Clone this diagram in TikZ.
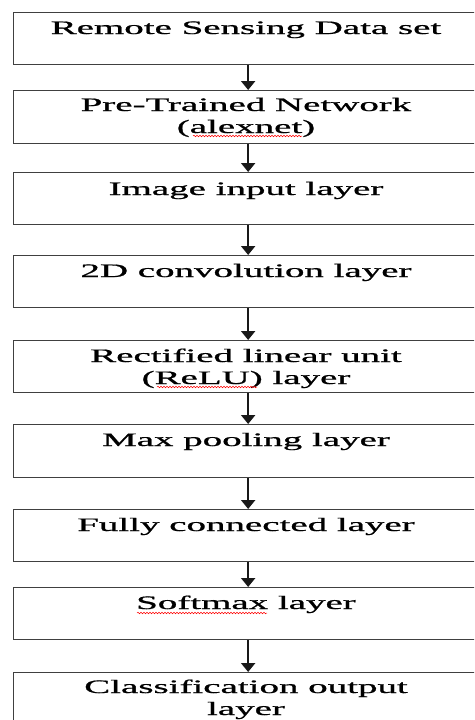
\documentclass[tikz,border=0pt]{standalone}
\usepackage{fontspec}
\setmainfont{Liberation Serif}
\newfontfamily\heavyserif{Liberation Serif}[FakeBold=0.7]
\usetikzlibrary{arrows.meta,decorations.pathmorphing}
\newcommand\widetext[1]{\scalebox{2.05}[1]{#1}}
\begin{document}
\begin{tikzpicture}[x=1pt,y=-1pt,
  box/.style={draw=black!75, line width=1.3pt, minimum width=469pt, anchor=north west, inner sep=0pt},
  txt/.style={anchor=base, inner sep=0pt, font=\heavyserif\fontsize{19}{22}\selectfont},
  flow/.style={-{Triangle[width=14pt,length=9pt]}, line width=2.2pt, black!90},
  squig/.style={red, line width=0.5pt, decorate, decoration={snake, amplitude=0.8pt, segment length=3pt}}]
\useasboundingbox (0,0) rectangle (474,720);
\clip (0,0) rectangle (474,720);
% boxes
\node[box, minimum height=52pt] (b1) at (13,12) {};
\node[box, minimum height=53pt] (b2) at (13,90) {};
\node[box, minimum height=52pt] (b3) at (13,172) {};
\node[box, minimum height=52pt] (b4) at (13,255) {};
\node[box, minimum height=52pt] (b5) at (13,340) {};
\node[box, minimum height=53pt] (b6) at (13,424) {};
\node[box, minimum height=52pt] (b7) at (13,509) {};
\node[box, minimum height=52pt] (b8) at (13,587) {};
\node[box, minimum height=60pt] (b9) at (13,672) {};
% texts
\node[txt] (t1) at (246,34) {\widetext{Remote Sensing Data set}};
\node[txt] (t2) at (246,111) {\widetext{Pre-Trained Network}};
\node[txt] (t2b) at (246,133) {\widetext{(alexnet)}};
\node[txt] (t3) at (246,195) {\widetext{Image input layer}};
\node[txt] (t4) at (246,277) {\widetext{2D convolution layer}};
\node[txt] (t5) at (246,362) {\widetext{Rectified linear unit}};
\node[txt] (t5b) at (246,384) {\widetext{(ReLU) layer}};
\node[txt] (t6) at (246,446) {\widetext{Max pooling layer}};
\node[txt] (t7) at (246,531) {\widetext{Fully connected layer}};
\node[txt] (t8) at (246,609) {\widetext{Softmax layer}};
\node[txt] (t9) at (246,693) {\widetext{Classification output}};
\node[txt] (t9b) at (246,715) {\widetext{layer}};
% spell-check squiggles
\draw[squig] (193,136) -- (302,136);
\draw[squig] (157,387) -- (257,387);
\draw[squig] (137,613) -- (267,613);
% arrows
\draw[flow] (b1) -- (b2);
\draw[flow] (b2) -- (b3);
\draw[flow] (b3) -- (b4);
\draw[flow] (b4) -- (b5);
\draw[flow] (b5) -- (b6);
\draw[flow] (b6) -- (b7);
\draw[flow] (b7) -- (b8);
\draw[flow] (b8) -- (b9);
\end{tikzpicture}
\end{document}
